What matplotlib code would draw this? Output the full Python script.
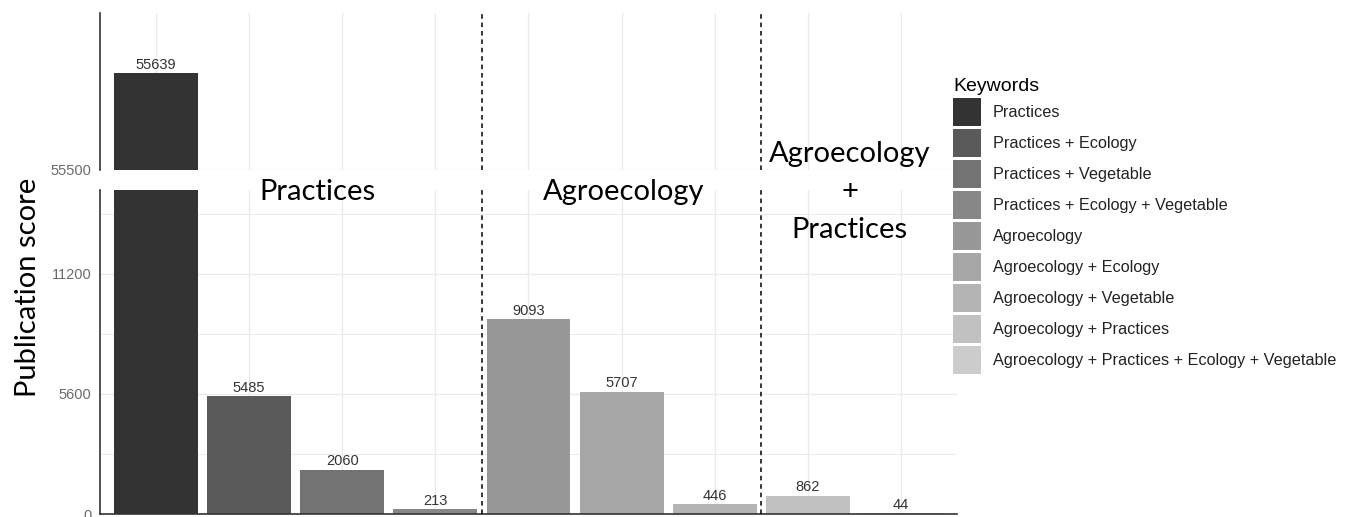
import matplotlib.pyplot as plt
import numpy as np
from matplotlib.patches import Patch

# --- data ---
keywords = [
    'Practices',
    'Practices + Ecology',
    'Practices + Vegetable',
    'Practices + Ecology + Vegetable',
    'Agroecology',
    'Agroecology + Ecology',
    'Agroecology + Vegetable',
    'Agroecology + Practices',
    'Agroecology + Practices + Ecology + Vegetable',
]
scores = [55639, 5485, 2060, 213, 9093, 5707, 446, 862, 44]
group_names = ['Practices', 'Agroecology', 'Agroecology\n+\nPractices']
group_sizes = [4, 3, 2]

low_major = [0, 5600, 11200]
low_minor = [2800, 8400, 14000]
top_ticks = [55500]

# ggplot-like grey fill scale
bar_greys = ['#333333', '#5a5a5a', '#737373', '#878787', '#989898',
             '#a7a7a7', '#b4b4b4', '#c1c1c1', '#cccccc']

plt.rcParams.update({
    'font.family': ['Liberation Sans', 'DejaVu Sans'],
})

x = np.arange(1, len(scores) + 1)
seps = np.cumsum(group_sizes)[:-1] + 0.5

fig = plt.figure(figsize=(13.49, 5.17), dpi=100)
ax_top = fig.add_axes([0.0741, 0.6712, 0.6353, 0.3037])
ax_low = fig.add_axes([0.0741, 0.0058, 0.6353, 0.6267])

grid_c = '#ebebeb'
tick_c = '#6b6b6b'

for ax in (ax_top, ax_low):
    bars = ax.bar(x, scores, width=0.9, color=bar_greys, zorder=2)
    ax.bar_label(bars, labels=[str(s) for s in scores], padding=1,
                 fontsize=10.5, color='#333333', annotation_clip=True)
    for s in seps:
        ax.axvline(s, color='black', ls=(0, (3, 2.5)), lw=1.1, zorder=3)
    ax.set_xlim(0.4, 9.6)
    ax.set_xticks(x)
    ax.tick_params(axis='x', length=0, labelbottom=False)
    ax.tick_params(axis='y', which='both', length=0, pad=6,
                   labelsize=10.5, labelcolor=tick_c)
    ax.grid(axis='x', color=grid_c, lw=1.0, zorder=0)
    for side in ('top', 'right'):
        ax.spines[side].set_visible(False)
    ax.spines['left'].set_color('#333333')
    ax.spines['left'].set_linewidth(1.2)

# upper panel (break)
ax_top.set_ylim(55500, 55725)
ax_top.set_yticks(top_ticks)
ax_top.grid(axis='y', color=grid_c, lw=1.0, zorder=0)
ax_top.spines['bottom'].set_visible(False)

# lower panel
ax_low.set_ylim(0, 15120)
ax_low.set_yticks(low_major)
ax_low.set_yticks(low_minor, minor=True)
ax_low.grid(axis='y', which='major', color=grid_c, lw=1.0, zorder=0)
ax_low.grid(axis='y', which='minor', color=grid_c, lw=0.7, zorder=0)
ax_low.spines['bottom'].set_color('#333333')
ax_low.spines['bottom'].set_linewidth(1.2)

# group labels overlaid across the break
fig.text(0.235, 0.6286, group_names[0], ha='center', va='center',
         fontsize=21, family='Lato', color='black')
fig.text(0.4626, 0.6286, group_names[1], ha='center', va='center',
         fontsize=21, family='Lato', color='black')
fig.text(0.630, 0.6286, group_names[2], ha='center', va='center',
         fontsize=21, family='Lato', color='black', linespacing=1.55)

fig.text(0.0205, 0.445, 'Publication score', rotation=90, ha='center',
         va='center', fontsize=21, family='Lato', color='black')

# legend
handles = [Patch(facecolor=c, edgecolor='none') for c in bar_greys]
fig.legend(handles, keywords, loc='upper left',
           bbox_to_anchor=(0.7065, 0.849), frameon=False,
           title='Keywords', title_fontsize=14, fontsize=11.7,
           handlelength=1.72, handleheight=2.3, labelspacing=0.17,
           handletextpad=0.72, borderpad=0, borderaxespad=0,
           alignment='left', labelcolor='#222222')

plt.savefig('out.png', dpi=100)
